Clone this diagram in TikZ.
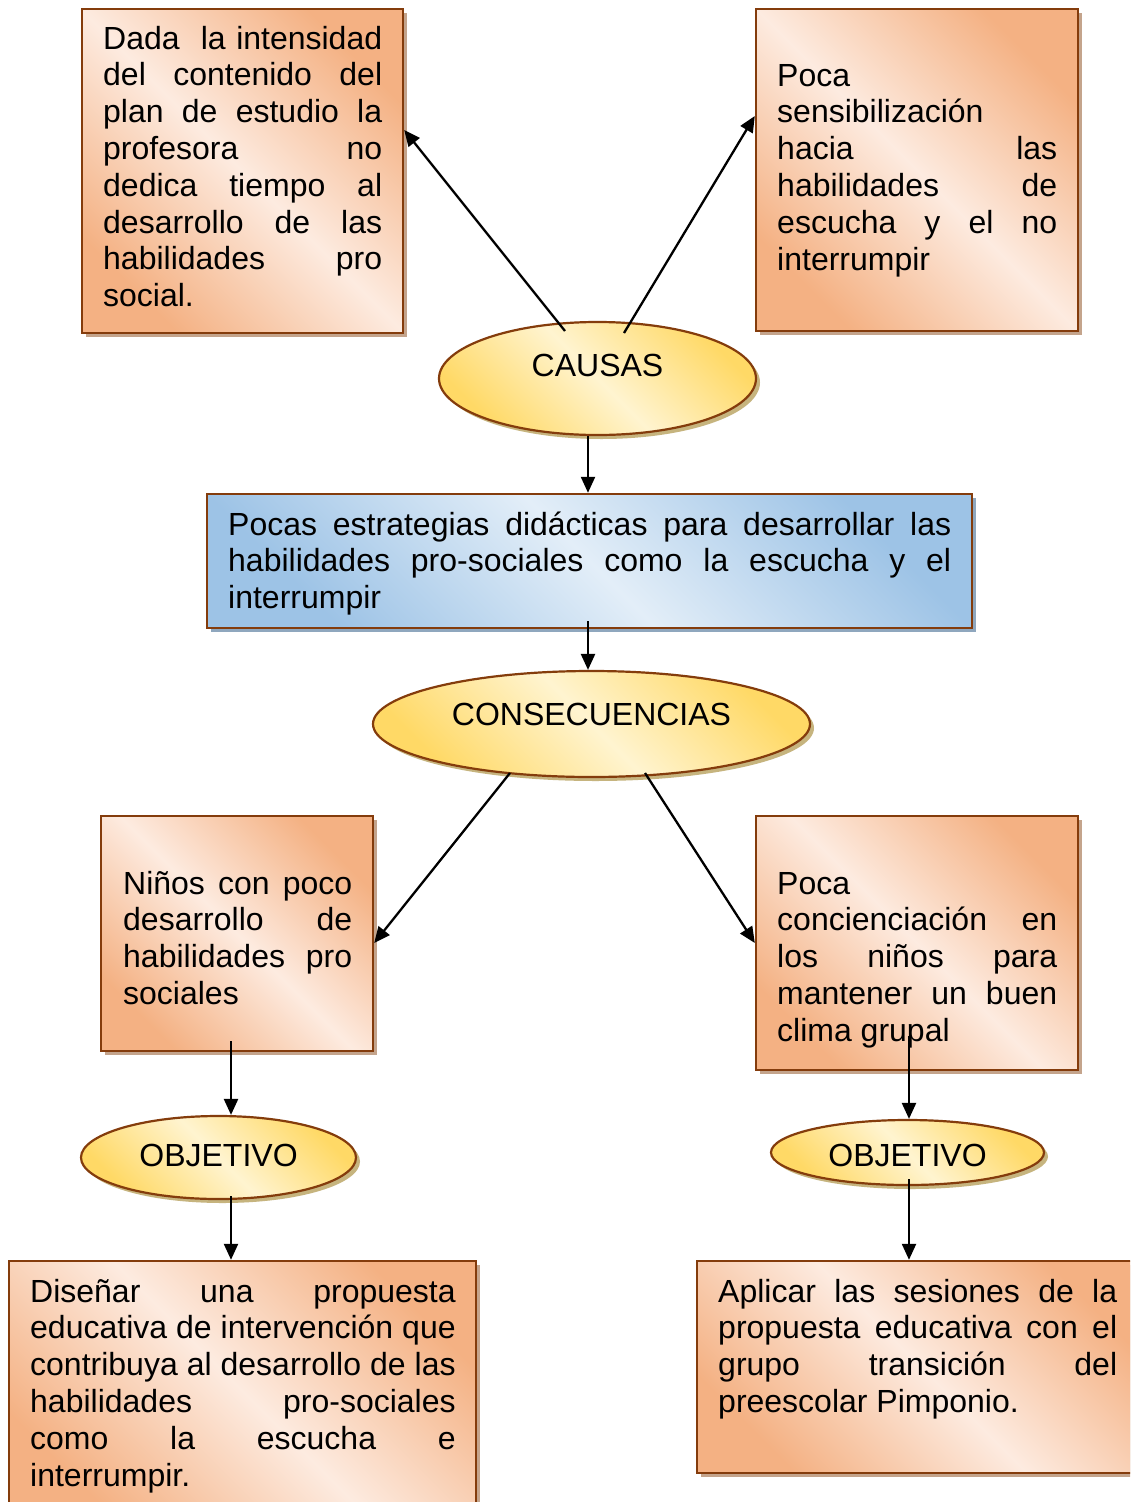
\documentclass[tikz,border=0pt]{standalone}
\usepackage{fontspec}
\setmainfont{Liberation Sans}
\usetikzlibrary{shapes.geometric,shadows,arrows.meta,calc}
\definecolor{brd}{HTML}{843C0C}
\definecolor{orA}{HTML}{F4B183}
\definecolor{orB}{HTML}{FDEBE0}
\definecolor{blA}{HTML}{9DC3E6}
\definecolor{blB}{HTML}{E3EEF8}
\definecolor{yeA}{HTML}{FFD966}
\definecolor{yeB}{HTML}{FFF4D0}
\definecolor{shOr}{HTML}{C4A48C}
\definecolor{shBl}{HTML}{8FA7BE}
\definecolor{shYe}{HTML}{C6B47E}
\newcommand\bodyfnt{\fontsize{32}{36.8}\selectfont\hyphenpenalty=10000\exhyphenpenalty=10000}
\begin{document}
\begin{tikzpicture}[x=1pt,y=-1pt,
  obox/.style={rectangle, draw=brd, line width=2.4pt, top color=orA, bottom color=orA, middle color=orB, shading angle=-45,
    drop shadow={shadow xshift=4pt, shadow yshift=-4pt, fill=shOr, opacity=1}, inner sep=0pt},
  bbox/.style={rectangle, draw=brd, line width=2.4pt, top color=blA, bottom color=blA, middle color=blB, shading angle=-45,
    drop shadow={shadow xshift=4pt, shadow yshift=-4pt, fill=shBl, opacity=1}, inner sep=0pt},
  oval/.style={ellipse, draw=brd, line width=2.2pt, top color=yeA, bottom color=yeA, middle color=yeB, shading angle=-45,
    drop shadow={shadow xshift=4pt, shadow yshift=-4pt, fill=shYe, opacity=1}, inner sep=0pt, font=\bodyfnt},
  txt/.style={anchor=base west, inner sep=0pt, align=justify, font=\bodyfnt},
  arr/.style={-{Triangle[length=16pt,width=14pt]}, line width=2.3pt, black}
]
\clip (0,0) rectangle (1130,1502);
\fill[white] (0,0) rectangle (1130,1502);

% boxes
\node[obox, minimum width=321pt, minimum height=324pt] (tl) at (242.5,171) {};
\node[obox, minimum width=322pt, minimum height=322pt] (tr) at (917,170) {};
\node[bbox, minimum width=765pt, minimum height=134pt] (mid) at (589.5,561) {};
\node[obox, minimum width=272pt, minimum height=235pt] (lm) at (237,933.5) {};
\node[obox, minimum width=322pt, minimum height=254pt] (rm) at (917,943) {};
\node[obox, minimum width=467pt, minimum height=260pt] (bl) at (242.5,1391) {};
\node[obox, minimum width=448pt, minimum height=212pt] (br) at (921,1367) {};

% ellipses
\node[oval, minimum width=317pt, minimum height=113pt, text height=20pt, text depth=25pt] (causas) at (597.5,378.5) {CAUSAS};
\node[oval, minimum width=437pt, minimum height=106pt, text height=20pt, text depth=18pt] (cons) at (591.5,724) {CONSECUENCIAS};
\node[oval, minimum width=275pt, minimum height=83pt, text height=20pt, text depth=3pt] (obj1) at (218.5,1157.5) {OBJETIVO};
\node[oval, minimum width=273pt, minimum height=65pt, text height=27pt, text depth=0pt] (obj2) at (907.5,1152.5) {OBJETIVO};

% texts
\node[txt, text width=279pt] (tlt) at (103,49) {Dada\ \ la intensidad\linebreak del contenido del\linebreak plan de estudio la\linebreak profesora no\linebreak dedica tiempo al\linebreak desarrollo de las\linebreak habilidades pro\linebreak social.};
\node[txt, text width=280pt] (trt) at (777,86) {Poca\newline sensibilización\newline hacia las\linebreak habilidades de\linebreak escucha y el no\linebreak interrumpir};
\node[txt, text width=723pt] (midt) at (228,535) {Pocas estrategias didácticas para desarrollar las\linebreak habilidades pro-sociales como la escucha y el\linebreak interrumpir};
\node[txt, text width=229pt] (lmt) at (123,894) {Niños con poco\linebreak desarrollo de\linebreak habilidades pro\linebreak sociales};
\node[txt, text width=280pt] (rmt) at (777,894) {Poca\newline concienciación en\linebreak los niños para\linebreak mantener un buen\linebreak clima grupal};
\node[txt, text width=425.5pt] (blt) at (30,1302) {Diseñar una propuesta\linebreak educativa de intervención que\linebreak contribuya al desarrollo de las\linebreak habilidades pro-sociales\linebreak como la escucha e\linebreak interrumpir.};
\node[txt, text width=399pt] (brt) at (718,1302) {Aplicar las sesiones de la\linebreak propuesta educativa con el\linebreak grupo transición del\linebreak preescolar Pimponio.};

% connectors
\draw[arr] ($(causas.center)+(-32.5,-47.5)$) -- ($(tl.east)+(0,-41)$);
\draw[arr] ($(causas.center)+(26.5,-45.5)$) -- ($(tr.west)+(0,-54)$);
\draw[arr] ($(causas.south)+(-9.5,0)$) -- ($(mid.north)+(-1.5,0)$);
\draw[arr] ($(mid.south)+(-1.5,-8)$) -- ($(cons.north)+(-3.5,0)$);
\draw[arr] ($(cons.center)+(-81.5,49)$) -- ($(lm.east)+(0,9.5)$);
\draw[arr] ($(cons.center)+(53.5,49)$) -- (rm.west);
\draw[arr] ($(lm.south)+(-6,-11)$) -- ($(obj1.north)+(12.5,0)$);
\draw[arr] ($(rm.south)+(-8,-35)$) -- ($(obj2.north)+(1.5,0)$);
\draw[arr] ($(obj1.south)+(12.5,-4)$) -- ($(bl.north)+(-11.5,0)$);
\draw[arr] ($(obj2.south)+(1.5,-7)$) -- ($(br.north)+(-12,0)$);
\end{tikzpicture}
\end{document}
